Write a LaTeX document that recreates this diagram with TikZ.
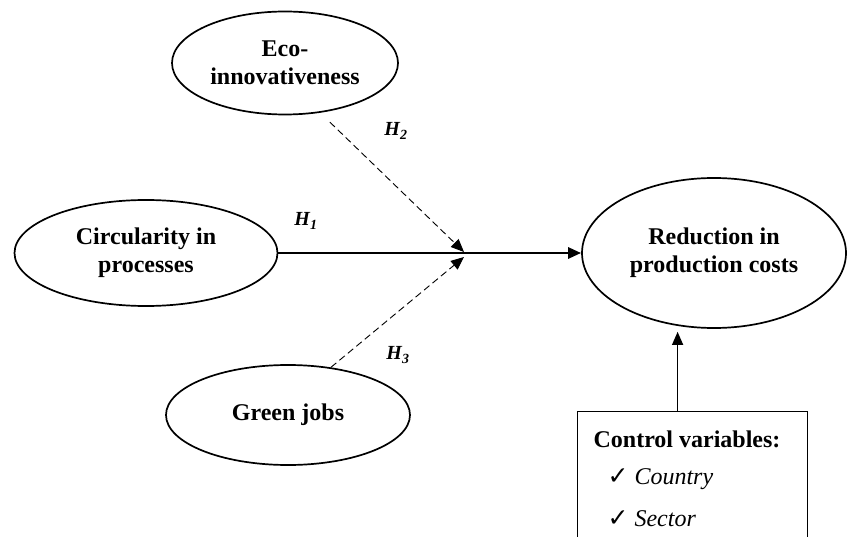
\documentclass[tikz,border=0pt]{standalone}
\usepackage{fontspec}
\setmainfont{Liberation Serif}
\newfontfamily\chkfont{DejaVu Sans}
\usetikzlibrary{positioning,shapes.geometric,arrows.meta}

\begin{document}
\begin{tikzpicture}[x=1pt, y=-1pt, ell/.style={draw, ellipse, line width=1.7pt, align=center, inner sep=0pt, font=\fontsize{24}{28}\selectfont\bfseries}, arrow/.style={-{Triangle[length=13pt, width=11pt]}}, mainarrow/.style={arrow, line width=2.8pt}, dasharrow/.style={arrow, dash pattern=on 7pt off 4pt, line width=0.9pt}, hyp/.style={font=\fontsize{20}{24}\selectfont\bfseries\itshape}, ctrlbox/.style={draw, line width=1.2pt, anchor=north west, inner xsep=16pt, inner ysep=19pt, font=\fontsize{24}{28}\selectfont}]
        \useasboundingbox (0,0) rectangle (848,537);
        \clip (0,0) rectangle (848,537);
        \node[ell, minimum width=226pt, minimum height=103pt] (eco) at (285,63) {Eco-\\innovativeness};
        \node[ell, minimum width=263pt, minimum height=106pt] (circ) at (146,253) {Circularity in\\processes};
        \node[ell, minimum width=264pt, minimum height=150pt] (red) at (714,253) {Reduction in\\production costs};
        \node[ell, minimum width=244pt, minimum height=100pt] (green) at (288,415) {Green jobs};
        \node[ctrlbox] (ctrl) at (577,411) {\parbox[t][150pt][t]{198pt}{\textbf{Control variables:}\\[9pt]\hspace*{14pt}{\chkfont\fontsize{25}{20}\selectfont ✓}\hspace{6pt}\textit{Country}\\[14pt]\hspace*{14pt}{\chkfont\fontsize{25}{20}\selectfont ✓}\hspace{6pt}\textit{Sector}}};
        \coordinate (mid) at (464,254);
        \draw[mainarrow] (circ.east) -- (red.west);
        \draw[dasharrow] ([yshift=-11pt]eco.-47) -- ([yshift=2pt]mid);
        \draw[dasharrow] (green.48) -- ([yshift=-3pt]mid);
        \draw[arrow, line width=1.2pt, shorten >=3pt] ([xshift=-15pt]ctrl.north) -- ([xshift=-15pt]ctrl.north |- red.south);
        \node[hyp] (h1) at (306,221) {H\textsubscript{1}};
        \node[hyp] (h2) at (396,131) {H\textsubscript{2}};
        \node[hyp] (h3) at (398,355) {H\textsubscript{3}};
    \end{tikzpicture}
\end{document}
